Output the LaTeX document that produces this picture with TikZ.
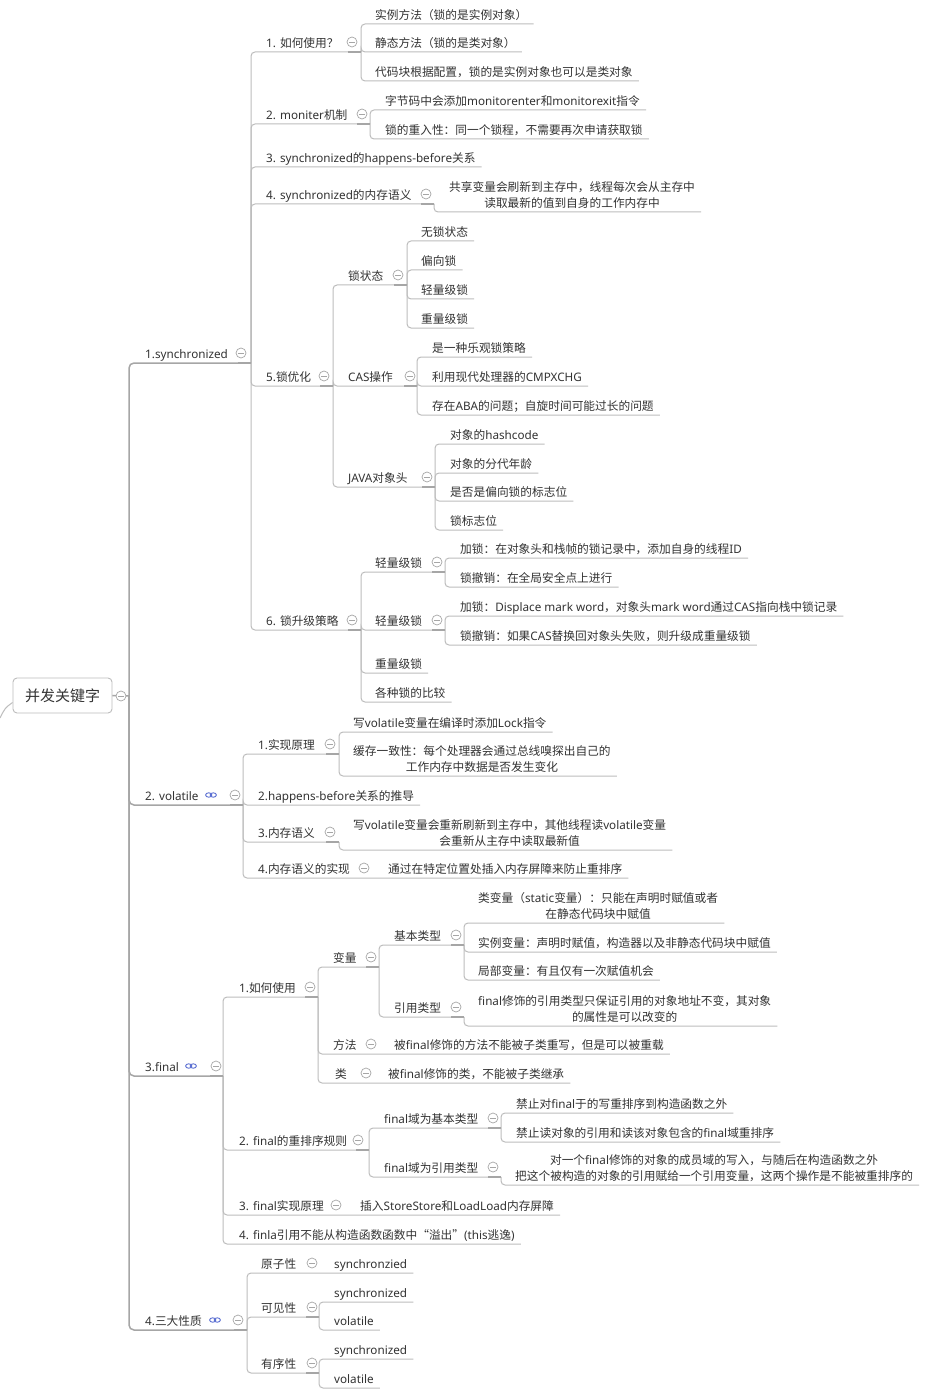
\documentclass[tikz,border=0pt]{standalone}
\usepackage{fontspec}
\setmainfont{Noto Sans}
\newfontfamily\cjkf{Noto Sans CJK SC}
\makeatletter
\XeTeXinterchartokenstate=1
\newXeTeXintercharclass\cjkcls
\count@="3000 \loop\XeTeXcharclass\count@=\cjkcls\ifnum\count@<"303F \advance\count@ 1 \repeat
\count@="4E00 \loop\XeTeXcharclass\count@=\cjkcls\ifnum\count@<"9FFF \advance\count@ 1 \repeat
\count@="FF00 \loop\XeTeXcharclass\count@=\cjkcls\ifnum\count@<"FFEF \advance\count@ 1 \repeat
\XeTeXcharclass"201C=\cjkcls
\XeTeXcharclass"201D=\cjkcls
\makeatother
\XeTeXinterchartoks 0 \cjkcls={\cjkf}
\XeTeXinterchartoks 4095 \cjkcls={\cjkf}
\XeTeXinterchartoks \cjkcls 0={\rmfamily}
\XeTeXinterchartoks \cjkcls 4095={\rmfamily}
\definecolor{tc}{HTML}{333333}
\definecolor{lc}{HTML}{BDBDBD}
\definecolor{sc}{HTML}{A6A6A6}
\definecolor{lkc}{HTML}{5B6FD2}
\tikzset{
  tx/.style={inner sep=0pt, text depth=4pt, anchor=south west, text=tc, font=\fontsize{11.7}{16}\selectfont},
  txc/.style={tx, align=center},
  ln/.style={draw=lc, line width=1pt, rounded corners=4pt},
  spine/.style={draw=sc, line width=1.5pt, rounded corners=5pt},
  stubs/.style={draw=sc, line width=1.6pt},
  rootbox/.style={draw=lc, line width=0.9pt, rounded corners=4pt, minimum width=99pt, minimum height=35pt, inner sep=0pt, text=tc, font=\fontsize{15}{18}\selectfont},
  cbtn/.pic={\draw[draw=sc, fill=white, line width=0.7pt] (0,0) circle (5pt); \draw[draw=sc, line width=0.7pt] (-2.8,0) -- (2.8,0);},
  lnk/.pic={\draw[draw=lkc, line width=0.9pt] (-2.3,0) ellipse (3.1pt and 2.2pt); \draw[draw=lkc, line width=0.9pt] (2.3,0) ellipse (3.1pt and 2.2pt);}
}
\newcommand\leafc[2]{\draw[ln] (#1) |- ([xshift=6pt]#2.south east);}
\newcommand\brc[2]{\draw[ln] (#1) |- (#2);}
\newcommand\stubc[1]{\draw[stubs] ([xshift=-13pt]#1) -- (#1);}
\begin{document}
\begin{tikzpicture}[x=1pt,y=-1pt]
\fill[white] (0,0) rectangle (927,1396);
\useasboundingbox (0,0) rectangle (927,1396);

% root
\node[rootbox] (root) at (62.5,695.5) {并发关键字};
\coordinate (R) at (129,696);
\coordinate (lin) at (0,718);
\draw[ln] (lin) .. controls (5,708) .. ([yshift=-7pt]root.west);
\draw[spine] (root.east) -- (R);
\pic at (121,696) {cbtn};

% level 1
\node[tx] (S1) at (145,363) {1.synchronized};
\coordinate (S1J) at (251,363);
\node[tx] (S2) at (145,805) {2. volatile};
\coordinate (S2J) at (243,805);
\node[tx] (S3) at (145,1076) {3.final};
\coordinate (S3J) at (223,1076);
\node[tx] (S4) at (145,1330) {4.三大性质};
\coordinate (S4J) at (247,1330);
\draw[spine] (R) |- (S1J);
\draw[spine] (R) |- (S2J);
\draw[spine] (R) |- (S3J);
\draw[spine] (R) |- (S4J);

% ---------- 1.synchronized ----------
\node[tx] (a1) at (266,52) {1. 如何使用？};
\coordinate (a1J) at (361,52);
\node[tx] (a1a) at (375,24) {实例方法（锁的是实例对象）};
\node[tx] (a1b) at (375,52) {静态方法（锁的是类对象）};
\node[tx] (a1c) at (375,81) {代码块根据配置，锁的是实例对象也可以是类对象};
\brc{S1J}{a1J}
\leafc{a1J}{a1a}\leafc{a1J}{a1b}\leafc{a1J}{a1c}

\node[tx] (a2) at (266,124) {2. moniter机制};
\coordinate (a2J) at (370,124);
\node[tx] (a2a) at (385,110) {字节码中会添加monitorenter和monitorexit指令};
\node[tx] (a2b) at (385,139) {锁的重入性：同一个锁程，不需要再次申请获取锁};
\brc{S1J}{a2J}
\leafc{a2J}{a2a}\leafc{a2J}{a2b}

\node[tx] (a3) at (266,167) {3. synchronized的happens-before关系};
\leafc{S1J}{a3}

\node[tx] (a4) at (266,204) {4. synchronized的内存语义};
\coordinate (a4J) at (434,204);
\node[txc] (a4a) at (449,212) {共享变量会刷新到主存中，线程每次会从主存中\\读取最新的值到自身的工作内存中};
\brc{S1J}{a4J}
\leafc{a4J}{a4a}

\node[tx] (a5) at (266,386) {5.锁优化};
\coordinate (a5J) at (333,386);
\brc{S1J}{a5J}
\node[tx] (b1) at (348,285) {锁状态};
\coordinate (b1J) at (407,285);
\node[tx] (b1a) at (421,241) {无锁状态};
\node[tx] (b1b) at (421,270) {偏向锁};
\node[tx] (b1c) at (421,299) {轻量级锁};
\node[tx] (b1d) at (421,328) {重量级锁};
\brc{a5J}{b1J}
\leafc{b1J}{b1a}\leafc{b1J}{b1b}\leafc{b1J}{b1c}\leafc{b1J}{b1d}
\node[tx] (b2) at (348,386) {CAS操作};
\coordinate (b2J) at (417,386);
\node[tx] (b2a) at (432,357) {是一种乐观锁策略};
\node[tx] (b2b) at (432,386) {利用现代处理器的CMPXCHG};
\node[tx] (b2c) at (432,415) {存在ABA的问题；自旋时间可能过长的问题};
\brc{a5J}{b2J}
\leafc{b2J}{b2a}\leafc{b2J}{b2b}\leafc{b2J}{b2c}
\node[tx] (b3) at (348,487) {JAVA对象头};
\coordinate (b3J) at (435,487);
\node[tx] (b3a) at (450,444) {对象的hashcode};
\node[tx] (b3b) at (450,473) {对象的分代年龄};
\node[tx] (b3c) at (450,501) {是否是偏向锁的标志位};
\node[tx] (b3d) at (450,530) {锁标志位};
\brc{a5J}{b3J}
\leafc{b3J}{b3a}\leafc{b3J}{b3b}\leafc{b3J}{b3c}\leafc{b3J}{b3d}

\node[tx] (a6) at (266,630) {6. 锁升级策略};
\coordinate (a6J) at (361,630);
\brc{S1J}{a6J}
\node[tx] (c1) at (375,572) {轻量级锁};
\coordinate (c1J) at (445,572);
\node[tx] (c1a) at (460,558) {加锁：在对象头和栈帧的锁记录中，添加自身的线程ID};
\node[tx] (c1b) at (460,587) {锁撤销：在全局安全点上进行};
\brc{a6J}{c1J}
\leafc{c1J}{c1a}\leafc{c1J}{c1b}
\node[tx] (c2) at (375,630) {轻量级锁};
\coordinate (c2J) at (445,630);
\node[tx] (c2a) at (460,616) {加锁：Displace mark word，对象头mark word通过CAS指向栈中锁记录};
\node[tx] (c2b) at (460,645) {锁撤销：如果CAS替换回对象头失败，则升级成重量级锁};
\brc{a6J}{c2J}
\leafc{c2J}{c2a}\leafc{c2J}{c2b}
\node[tx] (c3) at (375,673) {重量级锁};
\node[tx] (c4) at (375,702) {各种锁的比较};
\leafc{a6J}{c3}\leafc{a6J}{c4}

% ---------- 2. volatile ----------
\node[tx] (v1) at (258,754) {1.实现原理};
\coordinate (v1J) at (339,754);
\node[tx] (v1a) at (353,732) {写volatile变量在编译时添加Lock指令};
\node[txc] (v1b) at (353,776) {缓存一致性：每个处理器会通过总线嗅探出自己的\\工作内存中数据是否发生变化};
\brc{S2J}{v1J}
\leafc{v1J}{v1a}\leafc{v1J}{v1b}
\node[tx] (v2) at (258,805) {2.happens-before关系的推导};
\leafc{S2J}{v2}
\node[tx] (v3) at (258,842) {3.内存语义};
\coordinate (v3J) at (339,842);
\node[txc] (v3a) at (353,850) {写volatile变量会重新刷新到主存中，其他线程读volatile变量\\会重新从主存中读取最新值};
\brc{S2J}{v3J}
\leafc{v3J}{v3a}
\node[tx] (v4) at (258,878) {4.内存语义的实现};
\node[tx] (v4a) at (388,878) {通过在特定位置处插入内存屏障来防止重排序};
\leafc{S2J}{v4a}

% ---------- 3.final ----------
\node[tx] (f1) at (239,997) {1.如何使用};
\coordinate (f1J) at (318,997);
\brc{S3J}{f1J}
\node[tx] (g1) at (333,967) {变量};
\coordinate (g1J) at (379,967);
\brc{f1J}{g1J}
\node[tx] (h1) at (394,945) {基本类型};
\coordinate (h1J) at (464,945);
\brc{g1J}{h1J}
\node[txc] (h1a) at (478,923) {类变量（static变量）：只能在声明时赋值或者\\在静态代码块中赋值};
\node[tx] (h1b) at (478,952) {实例变量：声明时赋值，构造器以及非静态代码块中赋值};
\node[tx] (h1c) at (478,980) {局部变量：有且仅有一次赋值机会};
\leafc{h1J}{h1a}\leafc{h1J}{h1b}\leafc{h1J}{h1c}
\node[tx] (h2) at (394,1017) {引用类型};
\coordinate (h2J) at (464,1017);
\brc{g1J}{h2J}
\node[txc] (h2a) at (478,1026) {final修饰的引用类型只保证引用的对象地址不变，其对象\\的属性是可以改变的};
\leafc{h2J}{h2a}
\node[tx] (g2) at (333,1054) {方法};
\node[tx] (g2a) at (394,1054) {被final修饰的方法不能被子类重写，但是可以被重载};
\leafc{f1J}{g2a}
\node[tx] (g3) at (335,1083) {类};
\node[tx] (g3a) at (388,1083) {被final修饰的类，不能被子类继承};
\leafc{f1J}{g3a}

\node[tx] (f2) at (239,1150) {2. final的重排序规则};
\coordinate (f2J) at (369,1150);
\brc{S3J}{f2J}
\node[tx] (k1) at (384,1128) {final域为基本类型};
\coordinate (k1J) at (501,1128);
\brc{f2J}{k1J}
\node[tx] (k1a) at (516,1113) {禁止对final于的写重排序到构造函数之外};
\node[tx] (k1b) at (516,1142) {禁止读对象的引用和读该对象包含的final域重排序};
\leafc{k1J}{k1a}\leafc{k1J}{k1b}
\node[tx] (k2) at (384,1177) {final域为引用类型};
\coordinate (k2J) at (501,1177);
\brc{f2J}{k2J}
\node[txc] (k2a) at (515,1185) {对一个final修饰的对象的成员域的写入，与随后在构造函数之外\\把这个被构造的对象的引用赋给一个引用变量，这两个操作是不能被重排序的};
\leafc{k2J}{k2a}

\node[tx] (f3) at (239,1215) {3. final实现原理};
\node[tx] (f3a) at (360,1215) {插入StoreStore和LoadLoad内存屏障};
\leafc{S3J}{f3a}
\node[tx] (f4) at (239,1244) {4. finla引用不能从构造函数函数中“溢出”(this逃逸)};
\leafc{S3J}{f4}

% ---------- 4.三大性质 ----------
\node[tx] (p1) at (261,1273) {原子性};
\node[tx] (p1a) at (334,1273) {synchronzied};
\leafc{S4J}{p1a}
\node[tx] (p2) at (261,1317) {可见性};
\coordinate (p2J) at (319,1317);
\brc{S4J}{p2J}
\node[tx] (p2a) at (334,1302) {synchronized};
\node[tx] (p2b) at (334,1330) {volatile};
\leafc{p2J}{p2a}\leafc{p2J}{p2b}
\node[tx] (p3) at (261,1373) {有序性};
\coordinate (p3J) at (319,1373);
\brc{S4J}{p3J}
\node[tx] (p3a) at (334,1359) {synchronized};
\node[tx] (p3b) at (334,1388) {volatile};
\leafc{p3J}{p3a}\leafc{p3J}{p3b}

% stubs near junctions
\foreach \j in {S1J,S2J,S3J,S4J,a1J,a2J,a4J,a5J,b1J,b2J,b3J,a6J,c1J,c2J,v1J,v3J,f1J,g1J,h1J,h2J,f2J,k1J,k2J,p2J,p3J} {\stubc{\j}}

% collapse buttons and link icons
\foreach \p in {(241,353),(235,795),(216,1066),(238,1320),
  (352,42),(362,114),(426,194),(324,376),(398,275),(410,376),(427,477),(352,620),(437,562),(437,620),
  (330,744),(330,832),(364,868),
  (310,987),(371,957),(456,935),(456,1007),(371,1044),(366,1073),(358,1140),(493,1118),(493,1167),(336,1205),
  (312,1263),(312,1307),(312,1363)} {\pic at \p {cbtn};}
\pic at (211,795) {lnk};
\pic at (191,1066) {lnk};
\pic at (215,1320) {lnk};
\end{tikzpicture}
\end{document}
